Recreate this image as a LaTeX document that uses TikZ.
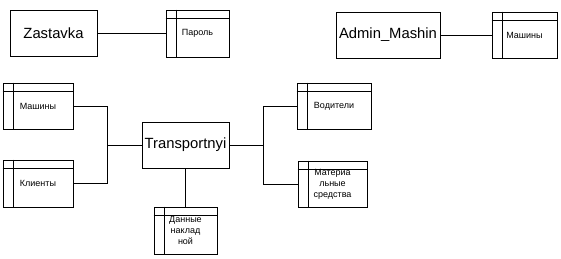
\documentclass[tikz,border=0pt]{standalone}
\usepackage{fontspec}
\setmainfont{Liberation Sans}
\begin{document}
\begin{tikzpicture}[x=1pt,y=-1pt,
  line width=0.9pt,
  entbox/.style={draw, inner sep=0pt, minimum width=87pt, minimum height=46pt, font=\fontsize{14.8}{16}\selectfont},
  tblbox/.style={draw, inner sep=0pt, minimum height=46pt, align=center, font=\fontsize{9}{11}\selectfont},
  conn/.style={line width=0.9pt}]
\useasboundingbox (0,0) rectangle (561,259);
\newcommand{\tbllines}[1]{%
  \draw ([xshift=10.5pt]#1.north west) -- ([xshift=10.5pt]#1.south west);
  \draw ([yshift=-9pt]#1.north west) -- ([yshift=-9pt]#1.north east);}
% entities
\node[entbox] (zas) at (53.5,33) {Zastavka};
\node[entbox, minimum width=104pt] (adm) at (388,35) {Admin\_Mashin};
\node[entbox] (tr) at (185.5,145) {Transportnyi};
% tables
\node[tblbox, minimum width=63pt, minimum height=47pt] (par) at (197.5,33.5) {Пароль};
\node[tblbox, minimum width=65pt] (mash1) at (524.5,35) {Машины};
\node[tblbox, minimum width=70pt] (mash2) at (38,106) {Машины};
\node[tblbox, minimum width=70pt, minimum height=47pt] (kli) at (38,183.5) {Клиенты};
\node[tblbox, minimum width=74pt] (vod) at (334,106) {Водители};
\node[tblbox, minimum width=69pt] (mat) at (332.5,184) {Материа\\льные\\средства};
\node[tblbox, minimum width=63pt, minimum height=47pt] (dan) at (185.5,230.5) {Данные\\наклад\\ной};
\tbllines{par}
\tbllines{mash1}
\tbllines{mash2}
\tbllines{kli}
\tbllines{vod}
\tbllines{mat}
\tbllines{dan}
% junctions
\coordinate (jl) at (107,145);
\coordinate (jr) at (263,145);
% connectors
\draw[conn] (zas.east) -- (zas.east -| par.west);
\draw[conn] (adm.east) -- (adm.east -| mash1.west);
\draw[conn] (mash2.east) -- (mash2.east -| jl) -- (kli.east -| jl) -- (kli.east);
\draw[conn] (tr.west) -- (jl);
\draw[conn] (tr.east) -- (jr);
\draw[conn] (vod.west) -- (vod.west -| jr) -- (mat.west -| jr) -- (mat.west);
\draw[conn] (tr.south) -- (tr.south |- dan.north);
\end{tikzpicture}
\end{document}
